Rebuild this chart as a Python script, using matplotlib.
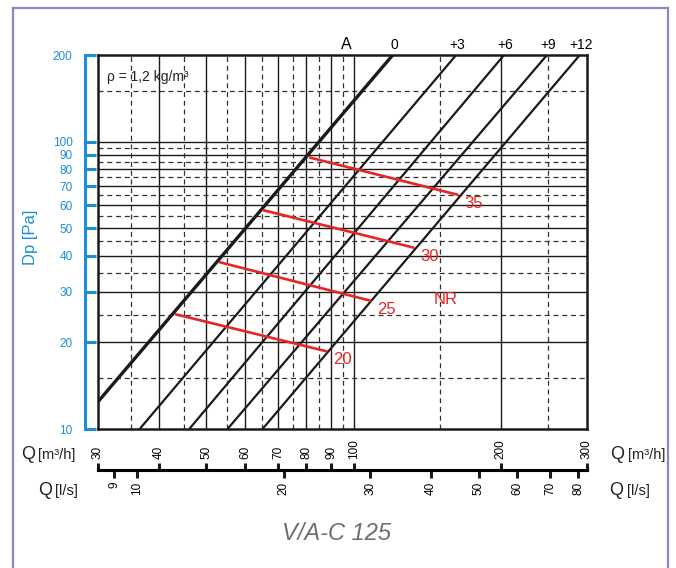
import matplotlib.pyplot as plt
from matplotlib.lines import Line2D
from matplotlib.ticker import NullLocator

plt.rcParams['font.family'] = ['Liberation Sans', 'DejaVu Sans']

# damper position lines: Q [m3/h] where each line meets Dp = 10 and Dp = 200
line_names = ['0', '+3', '+6', '+9', '+12']
q_at_10 = [26.9, 36.5, 46.1, 55.2, 65.1]
q_at_200 = [120.2, 162.0, 203.0, 248.5, 290.0]
line_dp = [10, 200]

# NR curves (start on line 0, end on line +12)
nr_levels = ['20', '25', '30', '35']
nr_q_start = [43.1, 53.0, 65.1, 81.0]
nr_dp_start = [25.1, 38.1, 57.8, 88.1]
nr_q_end = [88.4, 108.6, 133.0, 163.7]
nr_dp_end = [18.6, 27.9, 42.7, 65.2]

# grid / axis values
dp_ticks = [10, 20, 30, 40, 50, 60, 70, 80, 90, 100, 200]
dp_solid = [20, 30, 40, 50, 60, 70, 80, 90, 100]
dp_dashed = [15, 25, 35, 45, 55, 65, 75, 85, 95, 150]
q_ticks = [30, 40, 50, 60, 70, 80, 90, 100, 200, 300]
q_solid = [40, 50, 60, 70, 80, 90, 100, 200]
q_dashed = [35, 45, 55, 65, 75, 85, 95, 150, 250]
ls_ticks = [9, 10, 20, 30, 40, 50, 60, 70, 80]

BLUE = '#1b8ed6'
RED = '#e52526'
INK = '#1a1a1a'
W, H = 676, 568

fig = plt.figure(figsize=(W / 100, H / 100), dpi=100)
ax = fig.add_axes([98 / W, 1 - 429 / H, 489 / W, 374 / H])
ax.set_xscale('log')
ax.set_yscale('log')
ax.set_xlim(30, 300)
ax.set_ylim(10, 200)
ax.tick_params(which='both', left=False, labelleft=False, bottom=False, labelbottom=False)
for s in ax.spines.values():
    s.set_color(INK)
    s.set_linewidth(1.8)
    s.set_zorder(6)

dash = (0, (4, 3))
for v in dp_solid:
    ax.axhline(v, color=INK, lw=1.0, zorder=1)
for v in dp_dashed:
    ax.axhline(v, color='#333333', lw=0.9, ls=dash, zorder=1)
for v in q_solid:
    ax.axvline(v, color=INK, lw=1.0, zorder=1)
for v in q_dashed:
    ax.axvline(v, color='#333333', lw=0.9, ls=dash, zorder=1)

# black characteristic lines
for name, q0, q1 in zip(line_names, q_at_10, q_at_200):
    lw = 2.4 if name == '0' else 1.6
    ax.plot([q0, q1], line_dp, color=INK, lw=lw, zorder=3, solid_capstyle='butt')
    ax.annotate(name, (q1, 200), xytext=(1, 2), textcoords='offset points',
                ha='center', va='bottom', fontsize=10, annotation_clip=False)
ax.annotate('A', (96.5, 200), xytext=(0, 2), textcoords='offset points',
            ha='center', va='bottom', fontsize=11.5, annotation_clip=False)

# NR lines
for lvl, qs, ds, qe, de in zip(nr_levels, nr_q_start, nr_dp_start, nr_q_end, nr_dp_end):
    ax.plot([qs, qe], [ds, de], color=RED, lw=1.9, zorder=4, solid_capstyle='butt')
    ax.annotate(lvl, (qe, de), xytext=(11, -6), textcoords='offset points',
                ha='center', va='center', fontsize=12, color=RED)
ax.text(154, 28.3, 'NR', color=RED, fontsize=12, ha='center', va='center', zorder=5)

ax.text(0.018, 0.942, 'ρ = 1,2 kg/m³', transform=ax.transAxes, fontsize=10,
        ha='left', va='center', color='#222222')

# blue Dp axis
secy = ax.secondary_yaxis(-13 / 489)
secy.set_yticks(dp_ticks, labels=[str(v) for v in dp_ticks])
secy.yaxis.set_minor_locator(NullLocator())
secy.tick_params(direction='in', length=8, width=2.2, color=BLUE, labelcolor=BLUE,
                 labelsize=8.5, pad=9)
secy.spines['left'].set_color(BLUE)
secy.spines['left'].set_linewidth(2.2)
fig.text(31 / W, 1 - 237 / H, 'Dp [Pa]', rotation=90, color=BLUE, fontsize=12,
         ha='center', va='center')

# bottom Q scales
loc = (429 - 470) / 374
sx1 = ax.secondary_xaxis(loc)
sx1.set_alignment('top')
sx1.set_xticks(q_ticks, labels=[str(v) for v in q_ticks])
sx1.xaxis.set_minor_locator(NullLocator())
sx1.tick_params(direction='out', length=5, width=2.2, color=INK, labelsize=8.5,
                labelrotation=90, pad=3)
sx1.spines['top'].set_linewidth(2.2)

sx2 = ax.secondary_xaxis(loc, functions=(lambda q: q / 3.6, lambda l: l * 3.6))
sx2.set_xticks(ls_ticks, labels=[str(v) for v in ls_ticks])
sx2.xaxis.set_minor_locator(NullLocator())
sx2.tick_params(direction='out', length=5.5, width=2.2, color=INK, labelsize=8.5,
                labelrotation=90, pad=3)
sx2.spines['bottom'].set_linewidth(2.2)

for xq, xu, unit, yb in [(21, 38, '[m³/h]', 459), (610, 628, '[m³/h]', 459),
                         (38, 55, '[l/s]', 495), (609, 627, '[l/s]', 495)]:
    fig.text(xq / W, 1 - yb / H, 'Q', fontsize=13, ha='left', va='baseline', color='#222222')
    fig.text(xu / W, 1 - yb / H, unit, fontsize=10.5, ha='left', va='baseline', color='#222222')

fig.text(337 / W, 1 - 534 / H, 'V/A-C 125', fontsize=17, style='italic', color='#6e6e6e',
         ha='center', va='center')

# outer frame
frame = dict(transform=fig.transFigure, color='#8b88c4', lw=1.6)
fig.add_artist(Line2D([13 / W, 13 / W], [0, 1 - 8 / H], **frame))
fig.add_artist(Line2D([13 / W, 668 / W], [1 - 8 / H, 1 - 8 / H], **frame))
fig.add_artist(Line2D([668 / W, 668 / W], [0, 1 - 8 / H], **frame))

fig.savefig('out.png', dpi=100)
